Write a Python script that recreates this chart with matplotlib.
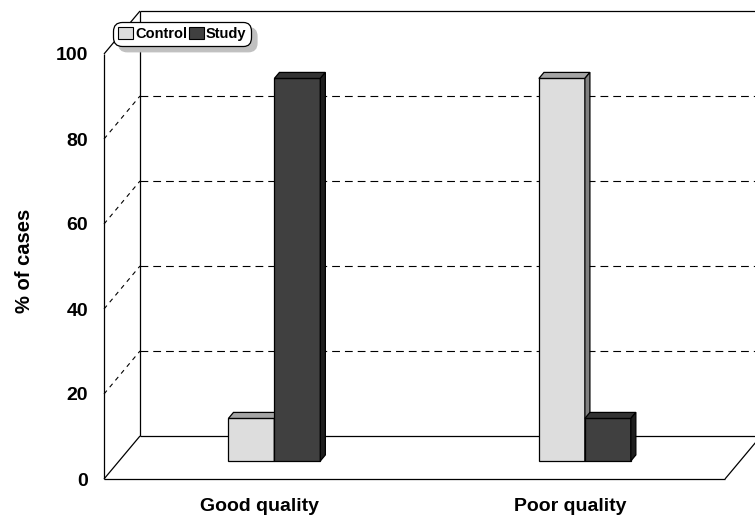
import numpy as np
import matplotlib.pyplot as plt
from matplotlib.patches import Polygon, Patch

plt.rcParams['font.family'] = ['Liberation Sans', 'DejaVu Sans']
plt.rcParams['font.weight'] = 'bold'

categories = ['Good quality', 'Poor quality']
series = ['Control', 'Study']
values = {
    'Control': [10, 90],
    'Study': [90, 10],
}
yticks = [0, 20, 40, 60, 80, 100]

# front / top / side face colours of each series
colors = {
    'Control': ('#dddddd', '#a4a4a4', '#808080'),
    'Study': ('#404040', '#333333', '#1e1e1e'),
}

W, H = 755, 516
fig = plt.figure(figsize=(W / 100, H / 100), dpi=100)
# axes = front plane of the 3d box
ax = fig.add_axes([104 / W, 37 / H, 621 / W, 425 / H])
ax.set_xlim(-0.5, 1.5)
ax.set_ylim(0, 100)

# depth of the box in data units (oblique projection)
KX = 36 / 310.5
KY = 43 / 4.25
x0, x1 = -0.5, 1.5
LW = 0.9


def line(xs, ys, lw=LW, **kw):
    ax.plot(xs, ys, color='black', lw=lw, clip_on=False, solid_capstyle='butt', **kw)


# walls and floor
line([x0, x0], [0, 100])
line([x0 + KX, x0 + KX], [KY, 100 + KY])
line([x0, x0 + KX], [100, 100 + KY])
line([x0 + KX, x1 + KX], [100 + KY, 100 + KY])
line([x0, x1], [0, 0])
line([x0, x0 + KX], [0, KY])
line([x1, x1 + KX], [0, KY])
line([x0 + KX, x1 + KX], [KY, KY])
for v in yticks[1:-1]:
    line([x0, x0 + KX], [v, v + KY], ls=(0, (4, 4)), lw=0.8)
    line([x0 + KX, x1 + KX], [v + KY, v + KY], ls=(0, (7, 4.5)), lw=0.8)

# 3d bars
bw = 0.148
z0, z1 = 0.42, 0.56
xpos = np.arange(len(categories))
offsets = {'Control': -bw / 2, 'Study': bw / 2}
for i in range(len(categories)):
    for s in series:
        front, top, side = colors[s]
        v = values[s][i]
        xl = xpos[i] + offsets[s] - bw / 2
        xr = xl + bw
        ax.bar(xl + z0 * KX, v, bw, bottom=z0 * KY, align='edge', color=front,
               edgecolor='black', lw=LW, clip_on=False, zorder=3)
        ax.add_patch(Polygon([(xl + z0 * KX, v + z0 * KY), (xr + z0 * KX, v + z0 * KY),
                              (xr + z1 * KX, v + z1 * KY), (xl + z1 * KX, v + z1 * KY)],
                             closed=True, fc=top, ec='black', lw=LW, clip_on=False, zorder=3))
        ax.add_patch(Polygon([(xr + z0 * KX, z0 * KY), (xr + z1 * KX, z1 * KY),
                              (xr + z1 * KX, v + z1 * KY), (xr + z0 * KX, v + z0 * KY)],
                             closed=True, fc=side, ec='black', lw=LW, clip_on=False, zorder=3))

for sp in ax.spines.values():
    sp.set_visible(False)
ax.set_yticks(yticks)
ax.set_yticklabels([str(t) for t in yticks], fontsize=14, fontweight='bold')
ax.set_xticks(xpos)
ax.set_xticklabels(categories, fontsize=14, fontweight='bold')
ax.tick_params(axis='y', length=0, pad=11.5)
ax.tick_params(axis='x', length=0, pad=14)
ax.set_ylabel('% of cases', fontsize=14.5, fontweight='bold')
ax.yaxis.set_label_coords(-0.113, 0.513)

handles = [Patch(fc=colors[s][0], ec='black', lw=0.8, label=s) for s in series]
leg = ax.legend(handles=handles, ncol=2, loc='upper left',
                bbox_to_anchor=(113 / W, 1 - 22 / H), bbox_transform=fig.transFigure,
                borderaxespad=0, prop={'weight': 'bold', 'size': 10.5},
                handlelength=1.0, handleheight=0.8, handletextpad=0.15,
                columnspacing=0.15, borderpad=0.35, fancybox=True,
                shadow={'ox': 4, 'oy': -4, 'color': '#c0c0c0', 'alpha': 1},
                framealpha=1, edgecolor='black')
leg.get_frame().set_linewidth(0.9)
leg.get_frame().set_boxstyle('round', pad=0.0, rounding_size=0.6)

fig.savefig('out.png', dpi=100)
